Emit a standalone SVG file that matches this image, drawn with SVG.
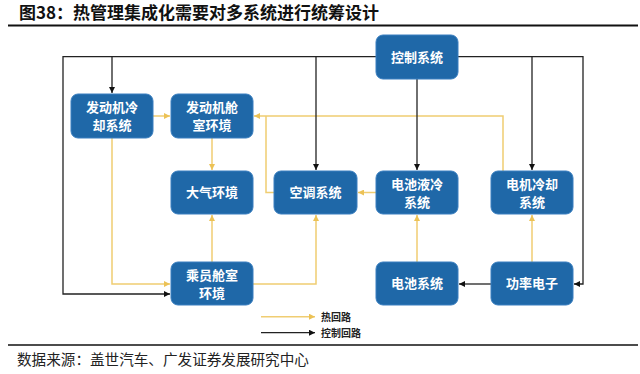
<svg xmlns="http://www.w3.org/2000/svg" width="640" height="374" viewBox="0 0 640 374">
<defs>
<style>
.node rect{fill:#1f68a8;stroke:#3a7fc0;stroke-width:1}
.node text{fill:#fff;font-family:"Noto Sans CJK SC",sans-serif;font-size:13px;font-weight:bold;text-anchor:middle}
.blk{fill:none;stroke:#222;stroke-width:1.3}
.yel{fill:none;stroke:#f0cd72;stroke-width:1.5}
.title{font-family:"Noto Sans CJK SC",sans-serif;font-size:17px;font-weight:bold;fill:#111}
.foot{font-family:"Noto Sans CJK SC",sans-serif;font-size:14.6px;fill:#222}
.leg{font-family:"Noto Sans CJK SC",sans-serif;font-size:10px;font-weight:bold;fill:#222}
</style>
<marker id="ab" viewBox="0 0 10 10" refX="10" refY="5" markerWidth="6" markerHeight="6" markerUnits="userSpaceOnUse" orient="auto"><path d="M0,0L10,5L0,10z" fill="#111"/></marker>
<marker id="ay" viewBox="0 0 10 10" refX="10" refY="5" markerWidth="6" markerHeight="6" markerUnits="userSpaceOnUse" orient="auto"><path d="M0,0L10,5L0,10z" fill="#ecc256"/></marker>
</defs>
<rect width="640" height="374" fill="#fff"/>
<text class="title" x="19" y="19">图38：热管理集成化需要对多系统进行统筹设计</text>
<line x1="8" y1="25.5" x2="638" y2="25.5" stroke="#111" stroke-width="2"/>
<g id="connectors">
<path class="yel" d="M153,116H170" marker-end="url(#ay)"/>
<path class="yel" d="M503,171V116H254" marker-end="url(#ay)"/>
<path class="yel" d="M274,192.5H266V116"/>
<path class="yel" d="M212,138V170" marker-end="url(#ay)"/>
<path class="yel" d="M212,262V215" marker-end="url(#ay)"/>
<path class="yel" d="M112,138V284H170" marker-end="url(#ay)"/>
<path class="yel" d="M253,284H316V215" marker-end="url(#ay)"/>
<path class="yel" d="M376,192.5H358" marker-end="url(#ay)"/>
<path class="yel" d="M417,262V215" marker-end="url(#ay)"/>
<path class="yel" d="M532,262V215" marker-end="url(#ay)"/>
<path class="blk" d="M376,56.7H63V294H170" marker-end="url(#ab)"/>
<path class="blk" d="M112,56.7V93" marker-end="url(#ab)"/>
<path class="blk" d="M316,56.7V170" marker-end="url(#ab)"/>
<path class="blk" d="M417,79V170" marker-end="url(#ab)"/>
<path class="blk" d="M458,56.7H583V284H574" marker-end="url(#ab)"/>
<path class="blk" d="M532,56.7V170" marker-end="url(#ab)"/>
<path class="blk" d="M491,284H459" marker-end="url(#ab)"/>
</g>
<g id="ctrl" class="node"><rect x="376" y="35" width="82" height="44" rx="7"/><text x="417" y="62">控制系统</text></g>
<g id="engcool" class="node"><rect x="71" y="94" width="82" height="44" rx="7"/><text x="112" y="112">发动机冷</text><text x="112" y="130">却系统</text></g>
<g id="engbay" class="node"><rect x="171" y="94" width="82" height="44" rx="7"/><text x="212" y="112">发动机舱</text><text x="212" y="130">室环境</text></g>
<g id="atm" class="node"><rect x="171" y="171" width="82" height="43" rx="7"/><text x="212" y="197">大气环境</text></g>
<g id="ac" class="node"><rect x="274" y="171" width="83" height="43" rx="7"/><text x="315.5" y="197">空调系统</text></g>
<g id="batcool" class="node"><rect x="376" y="171" width="82" height="43" rx="7"/><text x="417" y="189">电池液冷</text><text x="417" y="207">系统</text></g>
<g id="motor" class="node"><rect x="491" y="171" width="82" height="43" rx="7"/><text x="532" y="189">电机冷却</text><text x="532" y="207">系统</text></g>
<g id="cabin" class="node"><rect x="171" y="262" width="82" height="43" rx="7"/><text x="212" y="280">乘员舱室</text><text x="212" y="298">环境</text></g>
<g id="bat" class="node"><rect x="376" y="262" width="82" height="43" rx="7"/><text x="417" y="288">电池系统</text></g>
<g id="power" class="node"><rect x="491" y="262" width="82" height="43" rx="7"/><text x="532" y="288">功率电子</text></g>
<g id="legend">
<path class="yel" d="M261,316.7H315" marker-end="url(#ay)"/>
<text class="leg" x="321" y="320.5">热回路</text>
<path class="blk" d="M261,332.7H315" marker-end="url(#ab)"/>
<text class="leg" x="321" y="336.5">控制回路</text>
</g>
<line x1="8" y1="345" x2="638" y2="345" stroke="#111" stroke-width="1.5"/>
<text class="foot" x="17" y="364.5">数据来源：盖世汽车、广发证券发展研究中心</text>
</svg>
